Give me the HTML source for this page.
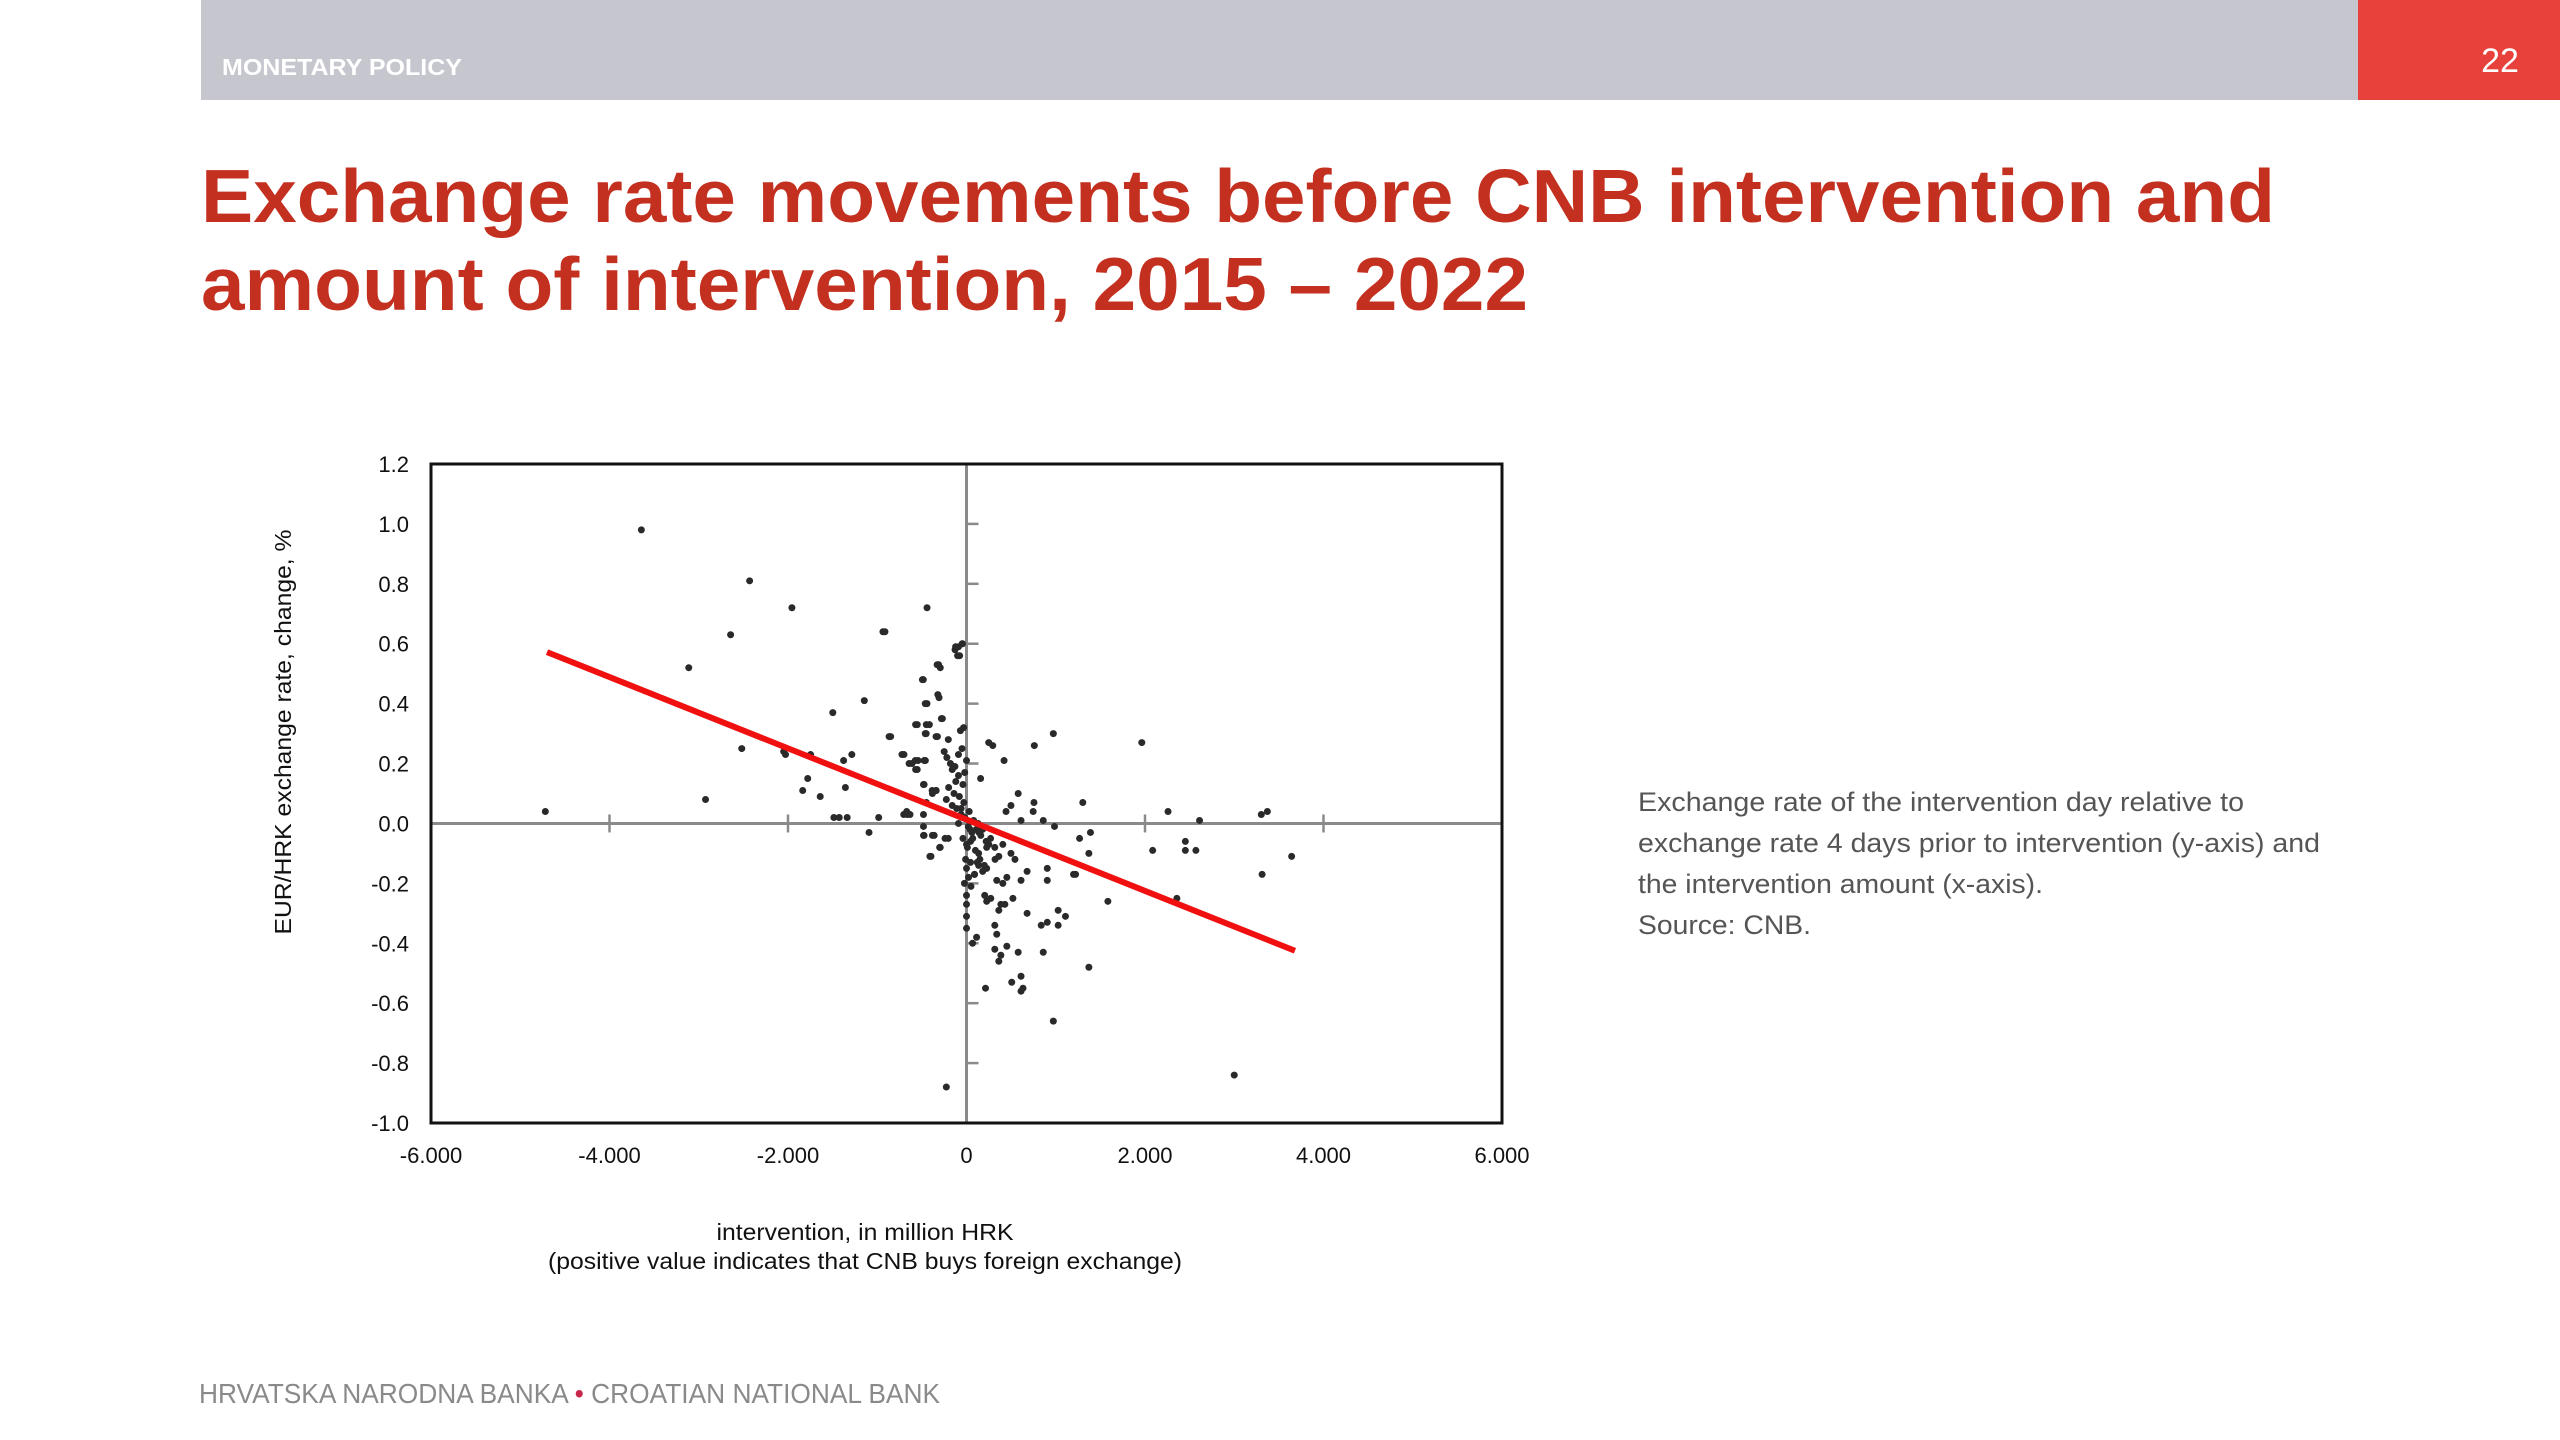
<!DOCTYPE html>
<html><head><meta charset="utf-8"><style>
html,body{margin:0;padding:0;background:#fff;width:2560px;height:1440px;overflow:hidden}
svg{display:block;font-family:"Liberation Sans",sans-serif}
</style></head><body>
<svg id="root" width="2560" height="1440" viewBox="0 0 2560 1440">
<rect x="201" y="0" width="2157" height="100" fill="#c5c6ce"/>
<rect x="2358" y="0" width="202" height="100" fill="#e8403a"/>
<text x="222" y="75" font-size="23" font-weight="bold" fill="#fff" textLength="240" lengthAdjust="spacingAndGlyphs">MONETARY POLICY</text>
<text x="2500" y="72" font-size="34" fill="#fff" text-anchor="middle">22</text>
<text x="201" y="222" font-size="75" font-weight="bold" fill="#c4301f" textLength="2074" lengthAdjust="spacingAndGlyphs">Exchange rate movements before CNB intervention and</text>
<text x="201" y="310" font-size="75" font-weight="bold" fill="#c4301f" textLength="1327" lengthAdjust="spacingAndGlyphs">amount of intervention, 2015 – 2022</text>
<g font-size="27" fill="#555">
<text x="1638" y="811" textLength="606" lengthAdjust="spacingAndGlyphs">Exchange rate of the intervention day relative to</text>
<text x="1638" y="852" textLength="682" lengthAdjust="spacingAndGlyphs">exchange rate 4 days prior to intervention (y-axis) and</text>
<text x="1638" y="893" textLength="405" lengthAdjust="spacingAndGlyphs">the intervention amount (x-axis).</text>
<text x="1638" y="934" textLength="173" lengthAdjust="spacingAndGlyphs">Source: CNB.</text>
</g>
<text x="199" y="1403" font-size="28" fill="#8a8a8a" textLength="741" lengthAdjust="spacingAndGlyphs">HRVATSKA NARODNA BANKA <tspan fill="#c8264a">•</tspan> CROATIAN NATIONAL BANK</text>
<g id="chart"></g>
</svg>
<script>
const xTicks=[-6000,-4000,-2000,0,2000,4000,6000];
const xTickLabels=["-6.000","-4.000","-2.000","0","2.000","4.000","6.000"];
const yTicks=[1.2,1.0,0.8,0.6,0.4,0.2,0.0,-0.2,-0.4,-0.6,-0.8,-1.0];
const yTickLabels=["1.2","1.0","0.8","0.6","0.4","0.2","0.0","-0.2","-0.4","-0.6","-0.8","-1.0"];
const pointsX=[-4719,-3643,-2430,-1956,-2643,-3112,-442,-936,-1145,-1498,-2518,-2048,-2028,-1747,-2924,-1779,-1835,-1639,-1357,-1377,-1285,-1486,-1426,-1337,-984,-1092,-867,-723,-643,-574,-474,-570,-703,-663,-482,-382,-341,-450,-482,-482,-482,-382,-301,-241,-410,-570,-450,-341,-462,-281,-494,-462,-321,-313,-329,-128,-100,-48,-914,-122,-77,-45,-90,-317,-294,-484,-308,-443,-271,-552,-416,-850,-452,-326,-204,-68,-32,249,294,760,973,1964,421,-701,-611,-543,-461,-552,-250,-220,-180,-130,-90,-160,-50,0,-20,-90,158,-475,-385,-340,-670,-633,579,756,747,498,443,611,860,986,1303,2258,2611,3303,3371,1267,1389,1371,2086,2452,2452,2570,3643,3312,2357,1584,1199,1222,905,905,679,611,-475,-362,-294,-398,-204,-40,0,45,136,226,317,407,362,498,543,45,0,90,181,136,23,-23,90,226,339,407,452,0,0,0,0,204,226,272,385,430,520,362,679,837,905,1027,1027,1109,317,339,68,113,317,385,362,452,579,860,1371,611,507,611,633,213,973,3000,-226,-226,-160,-110,-60,-20,30,80,130,180,-200,-140,-80,-30,20,60,110,160,220,270,-120,-40,40,100,150,250,320,-60,10,70,140,200,-90,-10,50,120];
const pointsY=[0.04,0.98,0.81,0.72,0.63,0.52,0.72,0.64,0.41,0.37,0.25,0.24,0.23,0.23,0.08,0.15,0.11,0.09,0.12,0.21,0.23,0.02,0.02,0.02,0.02,-0.03,0.29,0.23,0.20,0.21,0.21,0.18,0.03,0.03,0.13,0.10,0.11,0.07,0.03,-0.01,-0.04,-0.04,-0.08,-0.05,-0.11,0.33,0.33,0.29,0.30,0.35,0.48,0.40,0.43,0.53,0.53,0.58,0.56,0.60,0.64,0.59,0.56,0.60,0.59,0.53,0.52,0.48,0.42,0.40,0.35,0.33,0.33,0.29,0.30,0.29,0.28,0.31,0.32,0.27,0.26,0.26,0.30,0.27,0.21,0.23,0.20,0.21,0.21,0.18,0.24,0.22,0.20,0.19,0.23,0.18,0.25,0.21,0.17,0.16,0.15,0.13,0.11,0.11,0.04,0.03,0.10,0.07,0.04,0.06,0.04,0.01,0.01,-0.01,0.07,0.04,0.01,0.03,0.04,-0.05,-0.03,-0.10,-0.09,-0.06,-0.09,-0.09,-0.11,-0.17,-0.25,-0.26,-0.17,-0.17,-0.15,-0.19,-0.16,-0.19,-0.04,-0.04,-0.08,-0.11,-0.05,-0.05,-0.07,-0.06,-0.10,-0.08,-0.08,-0.07,-0.11,-0.10,-0.12,-0.13,-0.15,-0.17,-0.16,-0.14,-0.18,-0.20,-0.17,-0.15,-0.19,-0.20,-0.18,-0.24,-0.27,-0.31,-0.35,-0.24,-0.26,-0.25,-0.27,-0.27,-0.25,-0.29,-0.30,-0.34,-0.33,-0.34,-0.29,-0.31,-0.34,-0.37,-0.40,-0.38,-0.42,-0.44,-0.46,-0.41,-0.43,-0.43,-0.48,-0.51,-0.53,-0.56,-0.55,-0.55,-0.66,-0.84,-0.88,0.08,0.06,0.05,0.03,0.02,0.04,0.01,0.00,-0.02,0.12,0.10,0.09,0.07,-0.01,-0.03,-0.02,-0.04,-0.06,-0.05,0.14,0.13,-0.02,-0.09,-0.12,-0.07,-0.12,0.05,-0.08,-0.05,-0.03,-0.14,0.00,-0.12,-0.21,-0.13];
const lineX=[-4700,3680];
const lineY=[0.572,-0.425];

const NS="http://www.w3.org/2000/svg";
const L=431,R=1502,T=464,B=1123;
const xMin=-6000,xMax=6000,yMin=-1.0,yMax=1.2;
function sx(v){return L+(v-xMin)/(xMax-xMin)*(R-L);}
function sy(v){return B-(v-yMin)/(yMax-yMin)*(B-T);}
const g=document.getElementById('chart');
function mk(tag,attrs,parent){const e=document.createElementNS(NS,tag);for(const k in attrs)e.setAttribute(k,attrs[k]);(parent||g).appendChild(e);return e;}

let e=mk('line',{x1:L,x2:R,y1:sy(0),y2:sy(0),stroke:'#8a8a8a','stroke-width':3});


e=mk('line',{x1:sx(0),x2:sx(0),y1:T,y2:B,stroke:'#8a8a8a','stroke-width':3});


xTicks.forEach((v,i)=>{
  if(i>0&&i<xTicks.length-1&&v!==0){
    const t=mk('line',{x1:sx(v),x2:sx(v),y1:sy(0)-9,y2:sy(0)+9,stroke:'#8a8a8a','stroke-width':2.5});
    
    
  }
  const tx=mk('text',{x:sx(v),y:1163,'font-size':22,'text-anchor':'middle',fill:'#111'});
  tx.textContent=xTickLabels[i];
  
  
});
yTicks.forEach((v,i)=>{
  if(v!==0&&v>yMin&&v<yMax){
    const t=mk('line',{x1:sx(0),x2:sx(0)+12,y1:sy(v),y2:sy(v),stroke:'#8a8a8a','stroke-width':2.5});
    
    
  }
  const tx=mk('text',{x:409,y:sy(v)+8,'font-size':22,'text-anchor':'end',fill:'#111'});
  tx.textContent=yTickLabels[i];
  
  
});
pointsX.forEach((v,i)=>{
  const c=mk('circle',{cx:sx(v),cy:sy(pointsY[i]),r:3.5,fill:'#2a2a2a'});
  
  
});
e=mk('line',{x1:sx(lineX[0]),y1:sy(lineY[0]),x2:sx(lineX[1]),y2:sy(lineY[1]),stroke:'#f01010','stroke-width':6});


e=mk('rect',{x:L,y:T,width:R-L,height:B-T,fill:'none',stroke:'#111','stroke-width':3});


e=mk('text',{x:865,y:1240,'font-size':23,'text-anchor':'middle',fill:'#111',textLength:297,lengthAdjust:'spacingAndGlyphs'});
e.textContent='intervention,  in million HRK';


e=mk('text',{x:865,y:1269,'font-size':23,'text-anchor':'middle',fill:'#111',textLength:634,lengthAdjust:'spacingAndGlyphs'});
e.textContent='(positive value  indicates that CNB buys foreign exchange)';


e=mk('text',{x:0,y:0,'font-size':23,'text-anchor':'middle',fill:'#111',textLength:405,lengthAdjust:'spacingAndGlyphs',transform:'translate(291,732) rotate(-90)'});
e.textContent='EUR/HRK exchange rate, change, %';


</script>
</body></html>
